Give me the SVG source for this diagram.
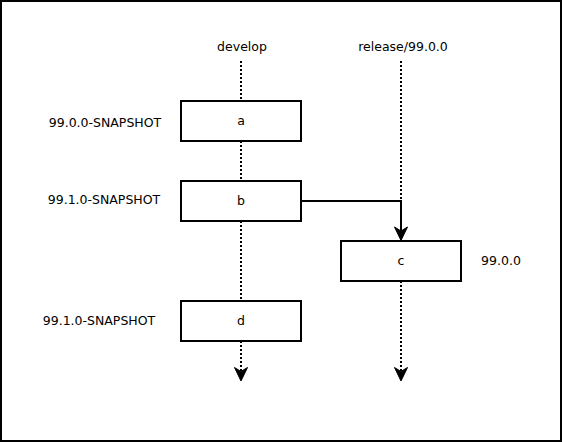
<svg xmlns="http://www.w3.org/2000/svg" width="562" height="442" viewBox="0 0 562 442">
<style>
.box{fill:#fff;stroke:#000;stroke-width:2}
.dot{fill:none;stroke:#000;stroke-width:2;stroke-dasharray:2 2}
.ln{fill:none;stroke:#000;stroke-width:2}
.ah{fill:#000;stroke:#000;stroke-width:1}
text{font-family:"DejaVu Sans",sans-serif;font-size:12.5px;fill:#000;text-anchor:middle}
</style>
<rect x="1" y="1" width="560" height="440" fill="#fff" stroke="#000" stroke-width="2"/>
<g id="connectors">
<path class="dot" d="M241,61 V101"/>
<path class="dot" d="M241,141 V181"/>
<path class="dot" d="M241,221 V301"/>
<path class="dot" d="M241,341 V372"/>
<path class="ah" d="M241,381 L234.5,367.5 L241,371.5 L247.5,367.5 Z"/>
<path class="dot" d="M401,61 V201"/>
<path class="dot" d="M401,281 V372"/>
<path class="ah" d="M401,381 L394.5,367.5 L401,371.5 L407.5,367.5 Z"/>
<path class="ln" d="M301,201 H401 V232"/>
<path class="ah" d="M401,240.5 L394.5,227 L401,231 L407.5,227 Z"/>
</g>
<g id="label-develop"><text x="242" y="51">develop</text></g>
<g id="label-release"><text x="403" y="51">release/99.0.0</text></g>
<g id="node-a"><rect class="box" x="181" y="101" width="120" height="40"/><text x="241" y="125">a</text></g>
<g id="node-b"><rect class="box" x="181" y="181" width="120" height="40"/><text x="241" y="205">b</text></g>
<g id="node-c"><rect class="box" x="341" y="241" width="120" height="40"/><text x="401" y="265">c</text></g>
<g id="node-d"><rect class="box" x="181" y="301" width="120" height="40"/><text x="241" y="325">d</text></g>
<g id="label-a"><text x="105" y="127">99.0.0-SNAPSHOT</text></g>
<g id="label-b"><text x="104" y="204">99.1.0-SNAPSHOT</text></g>
<g id="label-c"><text x="501" y="265">99.0.0</text></g>
<g id="label-d"><text x="99" y="325">99.1.0-SNAPSHOT</text></g>
</svg>
